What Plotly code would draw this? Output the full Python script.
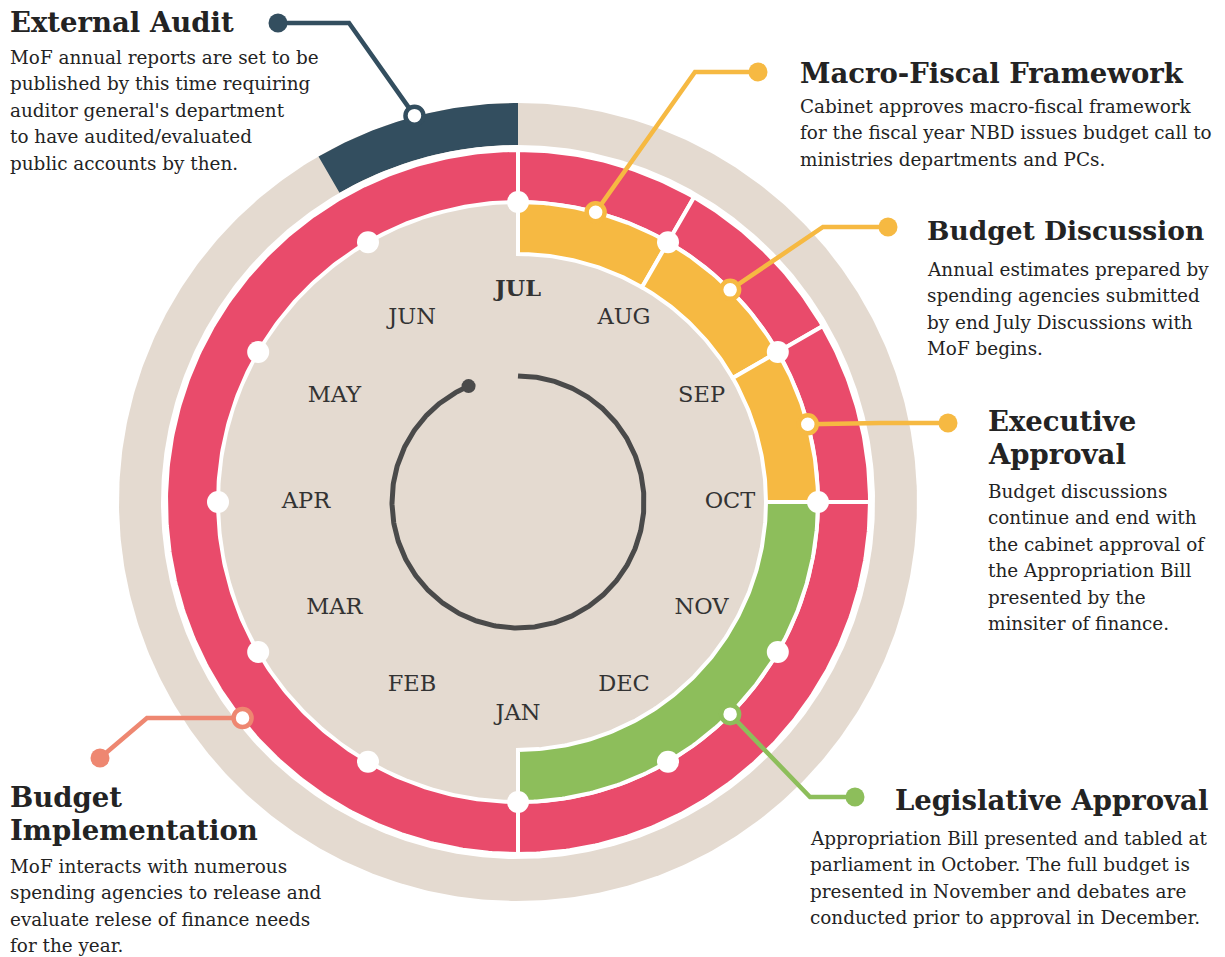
import numpy as np
import plotly.graph_objects as go

W, H = 1225, 957
CX, CY = 518, 502

# ---------------- data ----------------
MONTHS = ["JUL", "AUG", "SEP", "OCT", "NOV", "DEC", "JAN", "FEB", "MAR", "APR", "MAY", "JUN"]

# outer red ring ("Budget Implementation") pieces, in month units from July
RED_START = [0, 1, 2, 3, 6]
RED_END = [1, 2, 3, 6, 12]

# inner phase band pieces
PHASE_NAME = ["Macro-Fiscal Framework", "Budget Discussion", "Executive Approval", "Legislative Approval"]
PHASE_START = [0, 1, 2, 3]
PHASE_END = [1, 2, 3, 6]

# external audit band (June)
AUDIT_START = [11]
AUDIT_END = [12]

# callouts: anchor position on the wheel (month units) and ring
CALLOUT_NAME = ["External Audit", "Macro-Fiscal Framework", "Budget Discussion",
                "Executive Approval", "Legislative Approval", "Budget Implementation"]
CALLOUT_MONTH = [11.5, 0.5, 1.5, 2.5, 4.5, 7.73]
CALLOUT_RING = ["audit", "mid", "mid", "mid", "mid", "red"]

TITLES = {
    "External Audit": ["External Audit"],
    "Macro-Fiscal Framework": ["Macro-Fiscal Framework"],
    "Budget Discussion": ["Budget Discussion"],
    "Executive Approval": ["Executive", "Approval"],
    "Legislative Approval": ["Legislative Approval"],
    "Budget Implementation": ["Budget", "Implementation"],
}
BODIES = {
    "External Audit": ["MoF annual reports are set to be",
                       "published by this time requiring",
                       "auditor general's department",
                       "to have audited/evaluated",
                       "public accounts by then."],
    "Macro-Fiscal Framework": ["Cabinet approves macro-fiscal framework",
                               "for the fiscal year NBD issues budget call to",
                               "ministries departments and PCs."],
    "Budget Discussion": ["Annual estimates prepared by",
                          "spending agencies submitted",
                          "by end July Discussions with",
                          "MoF begins."],
    "Executive Approval": ["Budget discussions",
                           "continue and end with",
                           "the cabinet approval of",
                           "the Appropriation Bill",
                           "presented by the",
                           "minsiter of finance."],
    "Legislative Approval": ["Appropriation Bill presented and tabled at",
                             "parliament in October. The full budget is",
                             "presented in November and debates are",
                             "conducted prior to approval in December."],
    "Budget Implementation": ["MoF interacts with numerous",
                              "spending agencies to release and",
                              "evaluate relese of finance needs",
                              "for the year."],
}

# ---------------- styles / layout ----------------
BEIGE = "#E4DAD0"
RED = "#E94B6B"
YELLOW = "#F6B942"
GREEN = "#8DBE5B"
NAVY = "#334E5F"
SALMON = "#EE8771"
GRAY = "#4A4A4A"
TXT = "#232323"
PHASE_COLOR = {"Macro-Fiscal Framework": YELLOW, "Budget Discussion": YELLOW,
               "Executive Approval": YELLOW, "Legislative Approval": GREEN}
CALLOUT_COLOR = {"External Audit": NAVY, "Macro-Fiscal Framework": YELLOW,
                 "Budget Discussion": YELLOW, "Executive Approval": YELLOW,
                 "Legislative Approval": GREEN, "Budget Implementation": SALMON}
RING_R = {"audit": 400, "mid": 300, "red": 350}

R_OUTER = 399
R_WHITE = 357
R_RED = (300, 352)
R_INNER_BG = 298
R_PHASE = (248, 300)
R_DOTS = 300
R_LABEL = 212
R_ARC = 126

# elbow and end point of each callout leader (pixels)
LEADER = {
    "External Audit": [(349, 23), (278, 23)],
    "Macro-Fiscal Framework": [(695, 72), (758, 72)],
    "Budget Discussion": [(823, 227), (888, 227)],
    "Executive Approval": [(880, 423), (948, 423)],
    "Legislative Approval": [(810, 797), (855, 797)],
    "Budget Implementation": [(147, 718), (100, 758)],
}
TEXT_POS = {  # x, anchor, title y's, body first y
    "External Audit": (10, "left", [22], 57),
    "Macro-Fiscal Framework": (800, "left", [73], 106),
    "Budget Discussion": (927, "left", [230], 269),
    "Executive Approval": (988, "left", [421, 454], 491),
    "Legislative Approval": (1208, "right", [800], 838),
    "Budget Implementation": (10, "left", [797, 830], 866),
}
BODY_X = {"Legislative Approval": 810}
LINE_GAP = 26.5
FONT = "DejaVu Serif"
TITLE_SIZE = 27.5
BODY_SIZE = 18.4
MONTH_SIZE = 22.5


def pt(m, r):
    a = np.deg2rad(np.asarray(m, dtype=float) * 30.0)
    return CX + r * np.sin(a), CY - r * np.cos(a)


def arc(m0, m1, r, step=0.02):
    n = max(int(abs(m1 - m0) / step), 2)
    return pt(np.linspace(m0, m1, n), r)


def sector(m0, m1, r0, r1):
    xo, yo = arc(m0, m1, r1)
    xi, yi = arc(m1, m0, r0)
    x = np.concatenate([xo, xi, xo[:1]])
    y = np.concatenate([yo, yi, yo[:1]])
    return x, y


fig = go.Figure()


def add_poly(x, y, fill, line_color=None, line_width=0):
    fig.add_trace(go.Scatter(
        x=x, y=y, mode="lines", fill="toself", fillcolor=fill,
        line=dict(color=line_color or fill, width=line_width),
        hoverinfo="skip", showlegend=False))


# big beige disk
x, y = arc(0, 12, R_OUTER)
add_poly(x, y, BEIGE)
# audit band
for s, e in zip(AUDIT_START, AUDIT_END):
    x, y = sector(s, e, R_WHITE, R_OUTER)
    add_poly(x, y, NAVY)
# white disk
x, y = arc(0, 12, R_WHITE)
add_poly(x, y, "white")
# red ring
for s, e in zip(RED_START, RED_END):
    x, y = sector(s, e, R_RED[0], R_RED[1])
    add_poly(x, y, RED, "white", 4)
# inner beige
x, y = arc(0, 12, R_INNER_BG)
add_poly(x, y, BEIGE)
# phase band
for name, s, e in zip(PHASE_NAME, PHASE_START, PHASE_END):
    x, y = sector(s, e, R_PHASE[0], R_PHASE[1])
    add_poly(x, y, PHASE_COLOR[name], "white", 4)

# month dots
dx, dy = pt(np.arange(12), R_DOTS)
fig.add_trace(go.Scatter(x=dx, y=dy, mode="markers",
                         marker=dict(size=22, color="white", line=dict(width=0)),
                         hoverinfo="skip", showlegend=False))

# centre arc with end dot
ax_, ay_ = arc(0, 11.23, R_ARC)
fig.add_trace(go.Scatter(x=ax_, y=ay_, mode="lines", line=dict(color=GRAY, width=5),
                         hoverinfo="skip", showlegend=False))
ex, ey = pt([11.23], R_ARC)
fig.add_trace(go.Scatter(x=ex, y=ey, mode="markers", marker=dict(size=14, color=GRAY),
                         hoverinfo="skip", showlegend=False))

# callouts
for name, m, ring in zip(CALLOUT_NAME, CALLOUT_MONTH, CALLOUT_RING):
    c = CALLOUT_COLOR[name]
    px, py = pt([m], RING_R[ring])
    (bx, by), (qx, qy) = LEADER[name]
    fig.add_trace(go.Scatter(x=[px[0], bx, qx], y=[py[0], by, qy], mode="lines",
                             line=dict(color=c, width=4.5), hoverinfo="skip", showlegend=False))
    fig.add_trace(go.Scatter(x=[qx], y=[qy], mode="markers", marker=dict(size=19, color=c),
                             hoverinfo="skip", showlegend=False))
    fig.add_trace(go.Scatter(x=px, y=py, mode="markers",
                             marker=dict(size=18, color="white", line=dict(color=c, width=4.5)),
                             hoverinfo="skip", showlegend=False))

# month labels
lx, ly = pt(np.arange(12), R_LABEL)
labels = ["<b>%s</b>" % mname if i == 0 else mname for i, mname in enumerate(MONTHS)]
fig.add_trace(go.Scatter(x=lx, y=ly, mode="text", text=labels,
                         textfont=dict(family=FONT, size=MONTH_SIZE, color="#333333"),
                         textposition="middle center", hoverinfo="skip", showlegend=False))

# text blocks
annotations = []
for name in CALLOUT_NAME:
    x0, anchor, tys, by0 = TEXT_POS[name]
    shift = -2 if anchor == "left" else 2
    tsize = TITLE_SIZE - 1 if name == "Budget Discussion" else TITLE_SIZE
    for t, ty in zip(TITLES[name], tys):
        annotations.append(dict(x=x0, y=ty, xref="x", yref="y", text="<b>%s</b>" % t,
                                showarrow=False, xanchor=anchor, yanchor="middle", xshift=shift,
                                font=dict(family=FONT, size=tsize, color=TXT)))
    bx0 = BODY_X.get(name, x0)
    for i, line in enumerate(BODIES[name]):
        annotations.append(dict(x=bx0, y=by0 + i * LINE_GAP, xref="x", yref="y", text=line,
                                showarrow=False, xanchor="left", yanchor="middle", xshift=-2,
                                font=dict(family=FONT, size=BODY_SIZE, color=TXT)))

fig.update_layout(
    width=W, height=H, margin=dict(l=0, r=0, t=0, b=0),
    paper_bgcolor="white", plot_bgcolor="white",
    xaxis=dict(range=[0, W], visible=False, fixedrange=True),
    yaxis=dict(range=[H, 0], visible=False, fixedrange=True),
    annotations=annotations, showlegend=False,
)
# remove the page's default body margin so the figure fills the window exactly
fig.write_html("out.html", config={"displayModeBar": False},
               post_script="document.body.style.margin='0';document.body.style.overflow='hidden';")
